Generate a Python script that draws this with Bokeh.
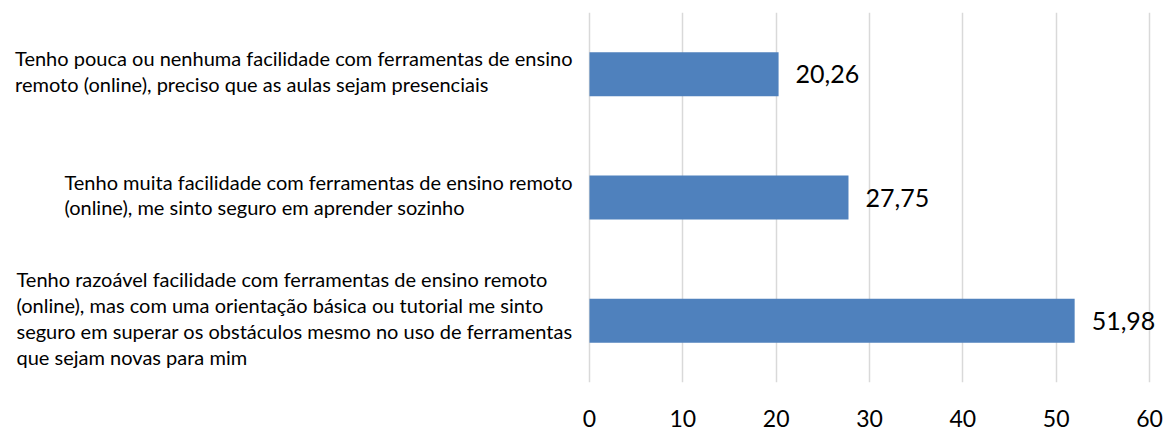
from bokeh.plotting import figure
from bokeh.models import FactorRange, Range1d, FixedTicker, ColumnDataSource
from bokeh.core.properties import value
from bokeh.embed import file_html
from bokeh.resources import INLINE

# data (top to bottom as in the reference)
categories = [
    "Tenho pouca ou nenhuma facilidade com ferramentas de ensino\nremoto (online), preciso que as aulas sejam presenciais",
    "Tenho muita facilidade com ferramentas de ensino remoto\n(online), me sinto seguro em aprender sozinho",
    "Tenho razoável facilidade com ferramentas de ensino remoto\n(online), mas com uma orientação básica ou tutorial me sinto\nseguro em superar os obstáculos mesmo no uso de ferramentas\nque sejam novas para mim",
]
values = [20.26, 27.75, 51.98]
x_ticks = [0, 10, 20, 30, 40, 50, 60]

FONT = "Lato"
labels = [f"{v:.2f}".replace(".", ",") for v in values]
src = ColumnDataSource(dict(cat=categories, val=values, lab=labels, zero=[0] * len(values)))

p = figure(
    width=1166, height=430,
    y_range=FactorRange(*categories[::-1], range_padding=0),
    x_range=Range1d(-63.1, 61.82),
    output_backend="svg", toolbar_location=None,
    y_axis_location=None,
    min_border_left=0, min_border_right=0, min_border_top=12, min_border_bottom=48,
)
p.outline_line_color = None
p.background_fill_color = "white"
p.border_fill_color = "white"

p.ygrid.grid_line_color = None
p.xgrid.ticker = FixedTicker(ticks=x_ticks)
p.xgrid.grid_line_color = "#D9D9D9"
p.xgrid.grid_line_width = 1.5

ax = p.xaxis[0]
ax.ticker = FixedTicker(ticks=x_ticks)
ax.axis_line_color = None
ax.major_tick_line_color = None
ax.minor_tick_line_color = None
ax.major_label_text_font = FONT
ax.major_label_text_font_size = "23px"
ax.major_label_text_color = "#000000"
ax.major_label_standoff = 21

p.hbar(y="cat", right="val", left=0, height=0.357, source=src,
       fill_color="#4F81BD", line_color=None)

p.text(x="val", y="cat", text="lab", source=src, x_offset=17,
       text_align="left", text_baseline="middle",
       text_font=value(FONT), text_font_size="25px", text_color="#000000")

p.text(x="zero", y="cat", text="cat", source=src, x_offset=-17, y_offset=-3,
       anchor="center_right", text_align="left", text_baseline="middle",
       text_font=value(FONT), text_font_size="20px", text_color="#000000",
       text_line_height=1.08)

open("out.html", "w").write(file_html(p, INLINE))
